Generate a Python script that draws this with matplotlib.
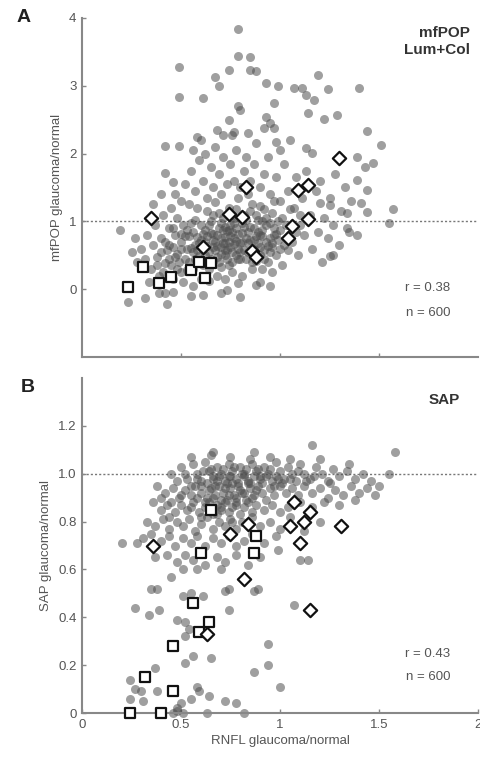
import matplotlib
matplotlib.use("Agg")
import matplotlib.pyplot as plt

plt.rcParams['font.family'] = ['Liberation Sans', 'DejaVu Sans']

# ---------------- Panel A data (RNFL ratio, mfPOP ratio) ----------------
a_core_x = [.45,.48,.50,.52,.53,.55,.56,.57,.58,.59,.60,.61,.62,.63,.64,.65,.66,.67,.68,.69,.70,.70,.71,.72,.73,.74,.75,.76,.77,.78,.79,.80,.81,.82,.83,.84,.85,.86,.87,.88,.89,.90,.91,.92,.93,.94,.95,.96,.97,.98,
            .46,.49,.51,.54,.56,.58,.60,.61,.63,.65,.66,.68,.69,.71,.72,.74,.75,.77,.78,.80,.81,.83,.84,.86,.87,.89,.90,.92,.93,.95,.96,.98,1.00,1.01,1.02,
            .47,.50,.53,.55,.57,.59,.62,.64,.66,.67,.70,.72,.73,.76,.77,.79,.82,.84,.85,.88,.89,.91,.94,.97,.99,1.03,1.04,1.05,.70,.74,.66,.76,.78,
            .40,.42,.44,.46,.48,.50,.52,.54,.56,.58,.60,.62,.64,.66,.68,.69,.71,.72,.73,.75,.76,.78,.79,.80,.82,.83,.85,.86,.88,.90,.91,.93,.95,.97,.99,
            .38,.41,.44,.47,.50,.53,.57,.61,.63,.65,.67,.70,.72,.74,.77,.79,.81,.84,.87,.90,.92,.96,1.00,1.08,1.10]
a_core_y = [.35,.52,.70,.44,.88,.61,.30,1.02,.77,.49,.95,.36,.70,1.15,.55,.83,.42,1.28,.64,.91,.33,.75,1.05,.50,.86,1.20,.62,.40,.97,.71,1.34,.55,.83,1.10,.45,.68,.92,1.25,.60,.78,1.02,.50,.87,1.18,.70,.40,.98,.62,1.30,.82,
            .62,.40,.95,.78,.55,1.20,.42,.82,.63,1.00,.72,.48,1.12,.88,.58,.35,.95,.66,1.18,.45,.98,.76,1.40,.52,.90,.68,1.22,.58,.95,.75,1.12,.50,.88,1.05,.65,
            .80,.25,.60,.98,.45,.68,.88,.30,1.10,.58,.98,.77,.45,.85,1.05,.60,.92,.55,1.15,.42,.85,1.00,.63,.90,.72,.95,.58,1.18,.62,.70,.82,.55,.90,
            .55,.70,.45,.90,.30,.60,.78,.40,.85,.58,.72,.50,.95,.62,.80,.40,.68,.92,.58,.78,1.10,.50,.82,.68,.58,1.02,.72,.40,1.10,.62,.78,1.05,.55,.80,1.00,
            .35,.25,.65,.48,.82,.28,.65,.60,.78,.45,.70,.52,.68,.88,.75,.45,.70,.85,.72,.80,.45,.68,.60,.85,1.10]
a_mid_x = [.30,.32,.33,.35,.36,.37,.38,.39,.40,.41,.42,.43,.44,.45,.46,.47,.48,.50,.51,.52,.54,.55,.56,.57,.59,.60,.61,.62,.63,.64,.65,.66,.67,.68,.69,.70,.71,.72,.73,.75,.76,.77,.78,.80,.81,.82,.83,.85,.86,.87,.88,.90,.91,.92,.94,.95,.96,.98,
           1.00,1.01,1.02,1.04,1.06,1.07,1.08,1.09,1.10,1.11,1.12,1.13,1.15,1.16,1.18,1.19,1.20,1.21,1.22,1.24,1.25,1.27,1.28,1.30,1.31,1.33,1.35,1.36,1.00,1.05,.58,.68,.84,.40,.36,.34,.28,.27,.25,.42,.55,.70,.90,.95]
a_mid_y = [.60,.45,.80,.30,.65,.95,.48,.20,.75,1.10,.38,.58,.90,1.20,.15,1.40,1.05,1.30,.10,1.55,1.25,1.75,.05,1.45,1.90,.15,1.60,2.00,1.35,.12,1.80,1.50,2.10,.20,1.70,1.40,1.95,.15,1.55,1.85,.25,1.60,2.05,1.50,.20,1.75,1.95,1.60,.30,1.85,2.15,1.50,.30,1.70,1.95,1.40,.25,1.65,
           1.30,.35,1.85,1.45,.70,1.20,1.65,.50,.95,1.35,.80,1.75,1.10,.60,1.45,.85,1.60,.40,1.05,.75,1.35,.95,1.70,.65,1.15,1.50,.85,1.30,2.05,2.20,2.25,2.35,2.30,1.40,1.25,.10,.40,.75,.55,-.05,-.10,-.05,.10,.05]
a_out_x = [.79,.79,.85,.49,.74,.85,.88,.67,1.19,.49,.61,.69,.93,.99,1.07,1.11,1.24,1.40,1.13,1.17,.79,.80,.97,1.14,1.22,1.29,.93,.95,.97,.92,.74,.77,1.44,1.51,.98,.60,.56,.42,.49,.71,.76,1.13,1.16,1.39,1.43,1.47,.42,.46,
           1.39,1.44,1.41,1.44,1.57,1.55,1.34,1.34,1.39,1.25,1.20,1.27,1.25,.19,.23,.32,.43,.61,.80,.73,.88,.79,.39,.46]
a_out_y = [3.84,3.44,3.43,3.27,3.23,3.24,3.22,3.13,3.16,2.84,2.82,2.99,3.04,3.00,2.97,2.97,2.95,2.97,2.87,2.79,2.70,2.64,2.75,2.60,2.51,2.57,2.54,2.45,2.38,2.38,2.50,2.32,2.33,2.13,2.17,2.20,2.05,2.11,2.11,2.27,2.27,2.08,2.01,1.95,1.80,1.86,1.71,1.58,
           1.61,1.46,1.27,1.14,1.18,.97,1.12,.90,.80,1.24,1.27,.50,.49,.87,-.19,-.13,-.22,-.09,-.11,-.01,.06,.09,-.06,-.04]
a_sq_x = [.23,.31,.39,.45,.55,.59,.65,.62]
a_sq_y = [.03,.33,.09,.18,.29,.40,.38,.16]
a_di_x = [.35,.61,.74,.81,.83,.86,.88,1.04,1.06,1.09,1.14,1.14,1.30]
a_di_y = [1.05,.62,1.11,1.06,1.50,.56,.47,.75,.93,1.46,1.54,1.03,1.93]

# ---------------- Panel B data (RNFL ratio, SAP ratio) ----------------
b_band_x = [.45,.50,.53,.56,.58,.60,.62,.64,.66,.68,.70,.72,.74,.76,.78,.80,.82,.84,.86,.88,.90,.92,.94,.96,.98,1.00,1.02,1.04,1.06,1.08,1.10,1.12,1.15,1.18,1.21,1.24,1.27,1.30,1.34,1.38,1.42,1.46,.55,.65,.75,.85,.95,1.05,1.20,1.35,
            .38,.42,.46,.49,.52,.55,.57,.60,.63,.65,.67,.69,.71,.73,.75,.77,.79,.81,.83,.85,.87,.89,.91,.93,.95,.97,1.00,1.03,1.06,1.09,1.12,1.16,1.20,1.24,1.28,1.32,1.36,1.40,1.44,1.48,
            .60,.64,.68,.72,.76,.80,.84,.88,.70,.78,.86,.66,.74,.82,.90,.98,
            .48,.52,.55,.58,.61,.63,.65,.67,.69,.71,.73,.75,.77,.79,.81,.83,.85,.87,.89,.91,.93,.95,.97,.99,1.01,1.05,1.09,1.13,1.17,1.25,
            .62,.66,.70,.74,.78,.82,.55,.58,.50,.45,.40,.44,.60,.68,.76,.84]
b_band_y = [1.00,1.03,.98,1.04,1.00,.97,1.05,1.01,.98,1.03,1.00,.97,1.04,1.01,.98,1.03,1.00,.97,1.04,1.01,.98,1.03,1.00,.97,1.05,1.01,.98,1.03,1.00,.97,1.04,1.00,.98,1.03,1.00,.97,1.02,.99,1.01,.98,1.00,.97,1.07,1.08,1.07,1.06,1.07,1.06,1.06,1.04,
            .95,.92,.94,.90,.93,.91,.95,.92,.90,.94,.91,.95,.92,.89,.94,.91,.95,.92,.89,.94,.91,.95,.92,.89,.94,.91,.95,.92,.94,.91,.95,.92,.94,.90,.93,.91,.95,.92,.94,.91,
            .95,.93,.97,.94,.96,.93,.96,.93,.89,.90,.90,.99,.99,.99,.99,.99,
            .97,1.00,.95,.98,1.01,.96,1.02,.95,.99,1.02,.96,.99,1.03,.96,1.00,1.02,.96,.99,1.02,.96,.99,1.02,.95,.98,.96,.98,1.01,.97,.99,.96,
            .88,.90,.86,.91,.87,.92,.86,.90,.91,.88,.90,.82,.82,.83,.80,.80]
b_low_x = [.36,.40,.43,.47,.50,.53,.56,.59,.62,.64,.66,.68,.70,.72,.74,.76,.78,.80,.82,.84,.86,.88,.92,.96,1.00,1.04,1.10,1.16,1.22,1.30,1.38,
           .33,.37,.41,.44,.48,.51,.54,.57,.60,.63,.66,.69,.72,.75,.78,.81,.86,.90,.95,1.00,1.05,1.12,1.20,
           .31,.35,.40,.44,.47,.51,.55,.58,.62,.66,.70,.74,.78,.82,.86,.92,.98,
           .37,.43,.48,.52,.56,.62,.68,.72,.78,.84,.90]
b_low_y = [.88,.85,.87,.84,.87,.85,.88,.84,.86,.88,.83,.87,.85,.88,.84,.86,.88,.83,.86,.88,.84,.87,.85,.87,.84,.86,.88,.86,.88,.87,.89,
           .80,.78,.81,.77,.80,.78,.81,.76,.79,.82,.77,.80,.78,.81,.77,.80,.82,.78,.80,.77,.82,.76,.80,
           .73,.75,.72,.74,.70,.73,.71,.74,.70,.73,.71,.74,.70,.72,.75,.71,.74,
           .65,.66,.63,.66,.64,.62,.65,.63,.66,.62,.65]
b_out_x = [.20,.28,.27,.34,.39,.38,.35,.45,.51,.58,.70,.72,.74,.87,.89,.74,.51,.55,.61,.48,.52,.54,.52,.65,.56,.52,.37,.24,.27,.30,.38,.31,.24,
           .58,.59,.64,.55,.50,.48,.72,.78,.63,.82,.51,.46,.48,.87,.94,.94,1.00,1.07,1.10,1.14,.99,1.16,1.58,1.55,1.50,.87,.66]
b_out_y = [.71,.71,.44,.41,.43,.52,.52,.57,.60,.60,.60,.51,.52,.51,.52,.43,.49,.50,.49,.39,.38,.35,.32,.23,.24,.21,.19,.14,.10,.09,.09,.05,.06,
           .11,.09,.07,.06,.04,.02,.05,.04,0,0,0,0,.01,.17,.20,.29,.11,.45,.64,.64,.68,1.12,1.09,1.00,.95,1.09,1.09]
b_sq_x = [.24,.40,.32,.46,.46,.56,.59,.64,.60,.65,.87,.88]
b_sq_y = [0,0,.15,.09,.28,.46,.34,.38,.67,.85,.67,.74]
b_di_x = [.36,.63,.75,.84,.82,1.05,1.07,1.10,1.12,1.15,1.15,1.31]
b_di_y = [.70,.33,.75,.79,.56,.78,.88,.71,.80,.84,.43,.78]

A_TICKS_Y = [0, 1, 2, 3, 4]
B_TICKS_Y = [0, 0.2, 0.4, 0.6, 0.8, 1.0, 1.2]
B_TICKLABELS_Y = ['0', '0.2', '0.4', '0.6', '0.8', '1.0', '1.2']
X_TICKS = [0, 0.5, 1, 1.5, 2]
X_TICKLABELS = ['0', '0.5', '1', '1.5', '2']

fig = plt.figure(figsize=(4.81, 7.58), dpi=100)
axA = fig.add_axes([82/481, 1-357/758, 396/481, 339/758])
axB = fig.add_axes([82/481, 1-713/758, 396/481, 335/758])

dot_kw = dict(s=42, c='#505050', alpha=0.55, linewidths=0, zorder=2)
sq_kw = dict(marker='s', s=58, facecolors='white', edgecolors='#111111', linewidths=1.6, zorder=4)
di_kw = dict(marker='D', s=46, facecolors='white', edgecolors='#111111', linewidths=1.6, zorder=4)
txt_c = '#555555'

def style(ax):
    for s in ['top', 'right']:
        ax.spines[s].set_visible(False)
    for s in ['left', 'bottom']:
        ax.spines[s].set_color('#888888')
        ax.spines[s].set_linewidth(1.5)
    ax.tick_params(direction='in', length=3, width=1, color='#888888',
                   labelsize=9.5, labelcolor=txt_c, pad=4)
    ax.axhline(1, color='#777777', lw=1, ls=(0, (1.5, 1.5)), zorder=1)
    ax.set_xlim(0, 2)

# Panel A
style(axA)
for xs, ys in [(a_core_x, a_core_y), (a_mid_x, a_mid_y), (a_out_x, a_out_y)]:
    axA.scatter(xs, ys, **dot_kw)
axA.scatter(a_sq_x, a_sq_y, **sq_kw)
axA.scatter(a_di_x, a_di_y, **di_kw)
axA.set_ylim(-1, 4)
axA.set_yticks(A_TICKS_Y)
axA.set_xticks(X_TICKS[1:4])
axA.set_xticklabels([])
axA.set_ylabel('mfPOP glaucoma/normal', fontsize=9.5, color=txt_c, labelpad=4)
axA.text(0.98, 0.975, 'mfPOP\nLum+Col', transform=axA.transAxes, ha='right', va='top',
         fontsize=11, fontweight='bold', color='#333333', linespacing=1.2)
axA.text(0.93, 0.205, 'r = 0.38', transform=axA.transAxes, ha='right', va='center', fontsize=9.5, color=txt_c)
axA.text(0.93, 0.13, 'n = 600', transform=axA.transAxes, ha='right', va='center', fontsize=9.5, color=txt_c)
fig.text(17/481, 1-18/758, 'A', fontsize=14, fontweight='bold', ha='left', va='center', color='#222222')

# Panel B
style(axB)
for xs, ys in [(b_band_x, b_band_y), (b_low_x, b_low_y), (b_out_x, b_out_y)]:
    axB.scatter(xs, ys, clip_on=False, **dot_kw)
axB.scatter(b_sq_x, b_sq_y, clip_on=False, **sq_kw)
axB.scatter(b_di_x, b_di_y, **di_kw)
axB.set_ylim(0, 1.4)
axB.set_yticks(B_TICKS_Y)
axB.set_yticklabels(B_TICKLABELS_Y)
axB.set_xticks(X_TICKS)
axB.set_xticklabels(X_TICKLABELS)
axB.set_ylabel('SAP glaucoma/normal', fontsize=9.5, color=txt_c, labelpad=4)
axB.set_xlabel('RNFL glaucoma/normal', fontsize=9.5, color=txt_c, labelpad=3)
axB.text(0.955, 0.955, 'SAP', transform=axB.transAxes, ha='right', va='top',
         fontsize=11, fontweight='bold', color='#333333')
axB.text(0.93, 0.175, 'r = 0.43', transform=axB.transAxes, ha='right', va='center', fontsize=9.5, color=txt_c)
axB.text(0.93, 0.108, 'n = 600', transform=axB.transAxes, ha='right', va='center', fontsize=9.5, color=txt_c)
fig.text(21/481, 1-388/758, 'B', fontsize=14, fontweight='bold', ha='left', va='center', color='#222222')

fig.savefig('out.png', dpi=100)
